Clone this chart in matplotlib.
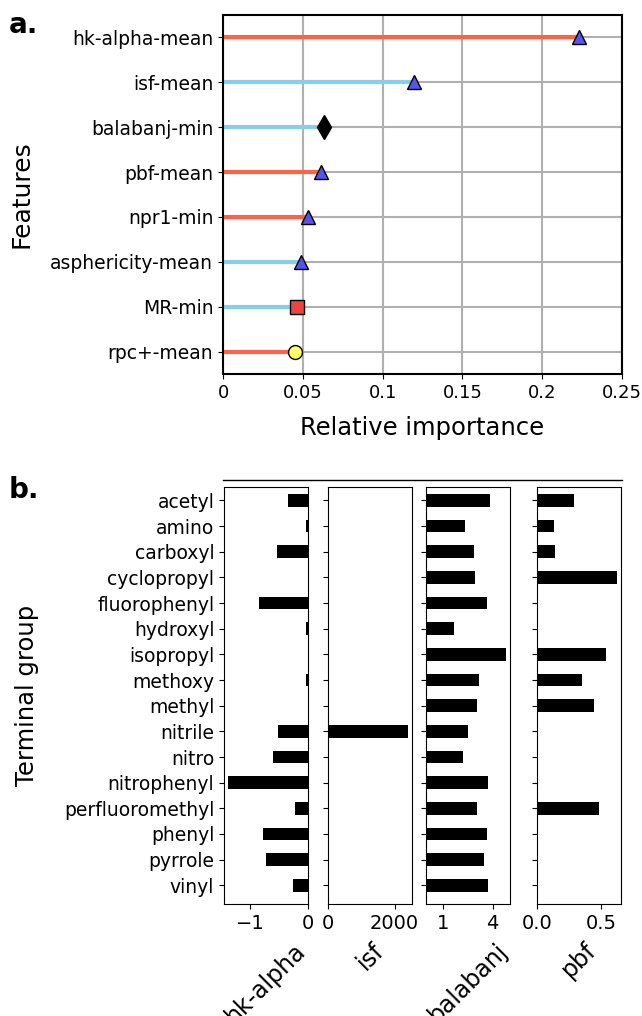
import numpy as np
import matplotlib
matplotlib.use("Agg")
import matplotlib.pyplot as plt
from matplotlib.lines import Line2D

# panel a data (top to bottom)
features = ["hk-alpha-mean", "isf-mean", "balabanj-min", "pbf-mean",
            "npr1-min", "asphericity-mean", "MR-min", "rpc+-mean"]
importance = [0.223, 0.1195, 0.063, 0.0615, 0.053, 0.049, 0.0465, 0.045]
stem_colors = ["tomato", "skyblue", "skyblue", "tomato",
               "tomato", "skyblue", "skyblue", "tomato"]
markers = ["^", "^", "d", "^", "^", "^", "s", "o"]
marker_colors = ["#5555ee", "#5555ee", "black", "#5555ee",
                 "#5555ee", "#5555ee", "#e8473f", "#ffff66"]

# panel b data
groups = ["acetyl", "amino", "carboxyl", "cyclopropyl", "fluorophenyl",
          "hydroxyl", "isopropyl", "methoxy", "methyl", "nitrile", "nitro",
          "nitrophenyl", "perfluoromethyl", "phenyl", "pyrrole", "vinyl"]
hk_alpha = [-0.337, -0.035, -0.53, 0.0, -0.843, -0.035, 0.0, -0.035, 0.0,
            -0.512, -0.6, -1.378, -0.215, -0.773, -0.721, -0.25]
isf = [0, 0, 0, 0, 0, 0, 0, 0, 0, 2400, 0, 0, 0, 0, 0, 0]
balabanj = [3.84, 2.34, 2.88, 2.94, 3.66, 1.68, 4.8, 3.18, 3.06, 2.52, 2.22,
            3.72, 3.06, 3.66, 3.48, 3.72]
pbf = [0.288, 0.131, 0.139, 0.626, 0, 0, 0.539, 0.351, 0.445, 0, 0, 0,
       0.484, 0, 0, 0]
descriptors = ["hk-alpha", "isf", "balabanj", "pbf"]
desc_ticks = [[-1, 0], [0, 2000], [1, 4], [0.0, 0.5]]
desc_ticklabels = [["\u22121", "0"], ["0", "2000"], ["1", "4"], ["0.0", "0.5"]]

fig = plt.figure(figsize=(6.42, 10.16), dpi=100)

# ---- panel a ----
ax = fig.add_axes([0.3474, 0.6319, 0.6215, 0.3533])
ypos = np.arange(len(features))[::-1]
ax.set_axisbelow(True)
ax.grid(True, color="#b0b0b0", lw=1.5)
for y, v, sc, m, mc in zip(ypos, importance, stem_colors, markers, marker_colors):
    ax.plot([0, v], [y, y], color=sc, lw=3, solid_capstyle="butt", zorder=2)
    ms = 10
    if m == "d":
        ms = 12
    ax.plot(v, y, marker=m, color=mc, mec="black", mew=1, ms=ms, ls="", zorder=3)
ax.set_yticks(ypos)
ax.set_yticklabels(features, fontsize=13.5)
ax.set_xlim(0, 0.25)
ax.set_ylim(-0.5, 7.5)
ax.set_xticks([0, 0.05, 0.1, 0.15, 0.2, 0.25])
ax.set_xticklabels(["0", "0.05", "0.1", "0.15", "0.2", "0.25"], fontsize=13)
ax.set_xlabel("Relative importance", fontsize=17.5, labelpad=10)
ax.set_ylabel("Features", fontsize=18, labelpad=12)
for s in ax.spines.values():
    s.set_linewidth(1.5)
fig.text(0.013, 0.968, "a.", fontsize=20, fontweight="bold")

# ---- panel b ----
lefts = [0.3489, 0.5109, 0.6636, 0.8364]
width = 0.1308
bottom = 0.1102
height = 0.4104
series = [hk_alpha, isf, balabanj, pbf]
yb = np.arange(len(groups))
for i, vals in enumerate(series):
    axb = fig.add_axes([lefts[i], bottom, width, height])
    axb.barh(yb, vals, height=0.5, color="black")
    axb.set_ylim(15.73, -0.52)
    axb.set_yticks(yb)
    if i == 0:
        axb.set_yticklabels(groups, fontsize=13.5)
        axb.set_ylabel("Terminal group", fontsize=17.5, labelpad=18)
    else:
        axb.set_yticklabels([])
    axb.set_xticks(desc_ticks[i])
    axb.set_xticklabels(desc_ticklabels[i], fontsize=14)
    axb.set_xlabel(descriptors[i], fontsize=17, rotation=45, labelpad=4)
    axb.margins(x=0.05)

fig.add_artist(Line2D([0.3474, 0.9688], [0.5276, 0.5276], color="black", lw=1))
fig.text(0.013, 0.51, "b.", fontsize=20, fontweight="bold")

fig.savefig("out.png", dpi=100)
